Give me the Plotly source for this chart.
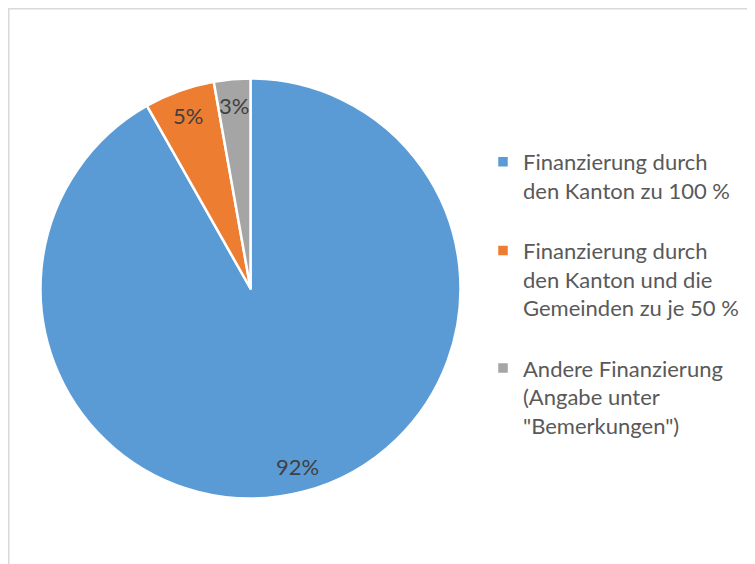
import math
import plotly.graph_objects as go

labels = [
    "Finanzierung durch<br>den Kanton zu 100 %<br> ",
    "Finanzierung durch<br>den Kanton und die<br>Gemeinden zu je 50 %<br> ",
    "Andere Finanzierung<br>(Angabe unter<br>\"Bemerkungen\")",
]
values = [91.8, 5.4, 2.8]
colors = ["#5B9BD5", "#ED7D31", "#A5A5A5"]

# page body has an 8px margin; figure coordinates are screen - 8
W, H = 747, 556
cx_px, cy_px, R = 242.5, 280.5, 210
dom_x = [(cx_px - R) / W, (cx_px + R) / W]
dom_y = [1 - (cy_px + R) / H, 1 - (cy_px - R) / H]

fig = go.Figure(go.Pie(
    labels=labels, values=values, sort=False, direction="clockwise", rotation=0,
    marker=dict(colors=colors, line=dict(color="white", width=2.5)),
    textinfo="none", domain=dict(x=dom_x, y=dom_y), showlegend=True,
))

total = sum(values)
cum = 0
for v in values:
    th = 2 * math.pi * (cum + v / 2) / total
    cum += v
    rr = R * 0.875
    fig.add_annotation(
        x=(cx_px + rr * math.sin(th)) / W, y=1 - (cy_px - rr * math.cos(th)) / H,
        xref="paper", yref="paper", xanchor="center", yanchor="middle",
        text=f"{round(v / total * 100)}%",
        showarrow=False, font=dict(family="Lato", size=22, color="#404040"),
    )

fig.add_shape(type="rect", xref="paper", yref="paper",
              x0=0.75 / W, x1=1.05, y0=-0.05, y1=1 - 0.75 / H,
              line=dict(color="#D9D9D9", width=1.5))

fig.update_layout(
    width=W, height=H, margin=dict(l=0, r=0, t=0, b=0),
    paper_bgcolor="white", plot_bgcolor="white",
    legend=dict(x=475 / W, xanchor="left", y=1 - 133 / H, yanchor="top",
                font=dict(family="Lato", size=22, color="#595959"),
                valign="top", tracegroupgap=0),
)
fig.write_html("out.html")
